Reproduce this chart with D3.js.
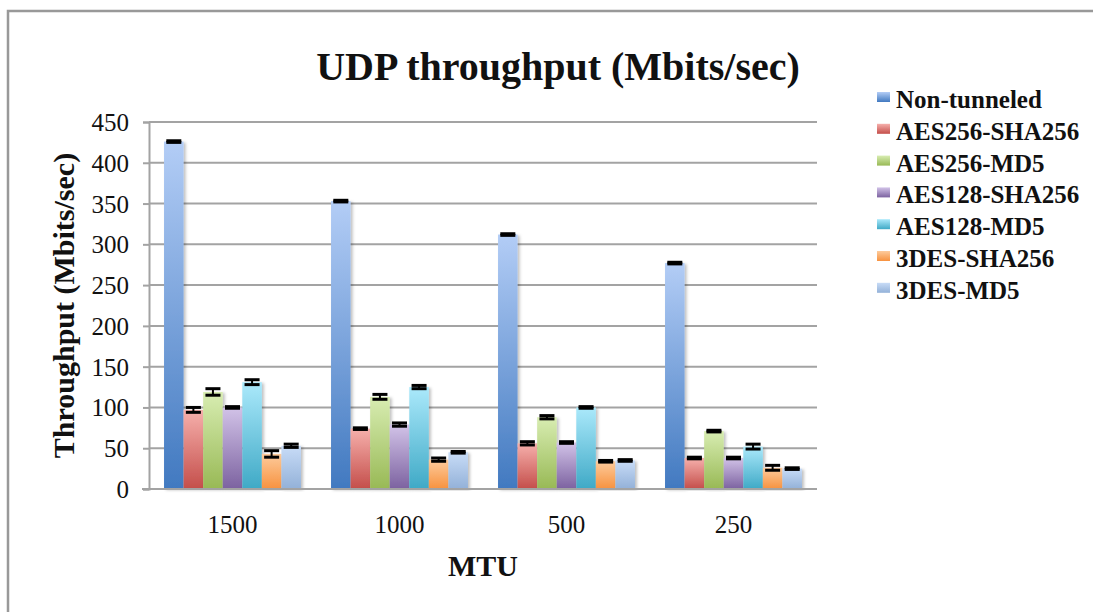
<!DOCTYPE html>
<html>
<head>
<meta charset="utf-8">
<script src="https://cdn.jsdelivr.net/npm/d3@7"></script>
<style>
body{margin:0;background:#fff;}
text{font-family:"Liberation Serif","Times New Roman",serif;fill:#111;}
.title{font-weight:bold;font-size:40px;}
.tick{font-size:25px;}
.label{font-weight:bold;font-size:30px;}
.legend{font-weight:bold;font-size:25px;}
</style>
</head>
<body>
<svg id="chart"></svg>
<script>
// data
var categories=["1500","1000","500","250"]
var seriesNames=["Non-tunneled","AES256-SHA256","AES256-MD5","AES128-SHA256","AES128-MD5","3DES-SHA256","3DES-MD5"]
var nonTunneled=[426,353,312,277]
var aes256sha=[97,74,56,38]
var aes256md5=[119,113,88,71]
var aes128sha=[100,79,57,38]
var aes128md5=[131,125,100,52]
var des3sha=[43,36,34,26]
var des3md5=[53,45,35,25]
var errNon=[1,1,1,1]
var errAes256sha=[3,1,2,1]
var errAes256md5=[4,3,2,1]
var errAes128sha=[1,2,1,1]
var errAes128md5=[3,2,1,3]
var errDes3sha=[4,2,1,3]
var errDes3md5=[2,1,1,1]
var yTicks=[0,50,100,150,200,250,300,350,400,450]

var values=[nonTunneled,aes256sha,aes256md5,aes128sha,aes128md5,des3sha,des3md5]
var errors=[errNon,errAes256sha,errAes256md5,errAes128sha,errAes128md5,errDes3sha,errDes3md5]
// top (light) and bottom (dark) colours of each bar gradient
var topColors=["#b3cdf6","#f6b0ac","#d8edb2","#d2c3e8","#abe9fb","#fdcb9c","#c8dcf7"]
var bottomColors=["#4179c0","#c44e4a","#98b955","#7c62a0","#3fa9c6","#f7923f","#93b1d8"]

var screen={width:1093,height:612}
var margins={left:149,right:276,top:122,bottom:123}
var graph={
    width:screen.width-margins.left-margins.right,
    height:screen.height-margins.top-margins.bottom}

var svg=d3.select("#chart")
    .attr("width",screen.width)
    .attr("height",screen.height)

var defs=svg.append("defs")
topColors.forEach(function(c,i){
    var g=defs.append("linearGradient")
        .attr("id","grad"+i)
        .attr("x1",0).attr("y1",0).attr("x2",0).attr("y2",1)
    g.append("stop").attr("offset","0%").attr("stop-color",c)
    g.append("stop").attr("offset","100%").attr("stop-color",bottomColors[i])
})
defs.append("filter").attr("id","shadow")
    .attr("x","-20%").attr("y","-5%").attr("width","150%").attr("height","110%")
    .append("feDropShadow")
    .attr("dx",2).attr("dy",1).attr("stdDeviation",1.5)
    .attr("flood-color","#000").attr("flood-opacity",0.25)

// outer frame (left and top edges visible)
svg.append("path")
    .attr("d","M8,612 L8,11 L1093,11")
    .attr("fill","none")
    .attr("stroke","#999")
    .attr("stroke-width",2.5)

var xScale=d3.scaleBand()
    .domain(categories)
    .range([0,graph.width])
    .paddingInner(0.18)
    .paddingOuter(0.09)
var innerScale=d3.scaleBand()
    .domain(d3.range(seriesNames.length))
    .range([0,xScale.bandwidth()])
var yScale=d3.scaleLinear()
    .domain([0,450])
    .range([graph.height,0])

var plot=svg.append("g")
    .attr("transform","translate("+margins.left+","+margins.top+")")

// gridlines
plot.append("g")
    .selectAll("line")
    .data(yTicks)
    .enter()
    .append("line")
    .attr("x1",0)
    .attr("x2",graph.width)
    .attr("y1",function(d){return yScale(d)})
    .attr("y2",function(d){return yScale(d)})
    .attr("stroke","#a3a3a3")
    .attr("stroke-width",2)

// y axis
var yAxis=d3.axisLeft(yScale).tickValues(yTicks).tickSize(6).tickPadding(14)
var ya=plot.append("g").call(yAxis)
ya.attr("font-family",null).attr("font-size",null)
ya.select(".domain").attr("stroke","#a3a3a3").attr("stroke-width",2)
ya.selectAll(".tick line").attr("stroke","#a3a3a3").attr("stroke-width",2)
ya.selectAll(".tick text")
    .attr("class","tick")
    .attr("dy","0.34em")
    .style("fill","#111")

// bars
var groups=plot.selectAll(".grp")
    .data(categories)
    .enter()
    .append("g")
    .classed("grp",true)
    .attr("transform",function(c){return "translate("+xScale(c)+",0)"})

groups.selectAll("rect")
    .data(function(c,ci){
        return values.map(function(s,si){return {si:si,v:s[ci],e:errors[si][ci]}})
    })
    .enter()
    .append("rect")
    .attr("x",function(d){return innerScale(d.si)})
    .attr("width",innerScale.bandwidth())
    .attr("y",function(d){return yScale(d.v)})
    .attr("height",function(d){return graph.height-yScale(d.v)})
    .attr("fill",function(d){return "url(#grad"+d.si+")"})
    .attr("filter","url(#shadow)")

// error bars
var capW=15
var eb=groups.selectAll(".err")
    .data(function(c,ci){
        return values.map(function(s,si){return {si:si,v:s[ci],e:errors[si][ci]}})
    })
    .enter()
    .append("g")
    .classed("err",true)
    .attr("transform",function(d){return "translate("+(innerScale(d.si)+innerScale.bandwidth()/2)+",0)"})
eb.append("line")
    .attr("x1",0).attr("x2",0)
    .attr("y1",function(d){return yScale(d.v+d.e)})
    .attr("y2",function(d){return yScale(d.v-d.e)})
    .attr("stroke","#000").attr("stroke-width",2)
eb.append("line")
    .attr("x1",-capW/2).attr("x2",capW/2)
    .attr("y1",function(d){return yScale(d.v+d.e)})
    .attr("y2",function(d){return yScale(d.v+d.e)})
    .attr("stroke","#000").attr("stroke-width",3)
eb.append("line")
    .attr("x1",-capW/2).attr("x2",capW/2)
    .attr("y1",function(d){return yScale(d.v-d.e)})
    .attr("y2",function(d){return yScale(d.v-d.e)})
    .attr("stroke","#000").attr("stroke-width",3)

// x axis baseline
plot.append("line")
    .attr("x1",-7).attr("x2",graph.width)
    .attr("y1",graph.height).attr("y2",graph.height)
    .attr("stroke","#a3a3a3").attr("stroke-width",2)

// category labels
plot.append("g")
    .selectAll("text")
    .data(categories)
    .enter()
    .append("text")
    .classed("tick",true)
    .attr("text-anchor","middle")
    .attr("x",function(c){return xScale(c)+xScale.bandwidth()/2})
    .attr("y",graph.height+44)
    .text(function(c){return c})

// labels
var labels=svg.append("g")
labels.append("text")
    .text("UDP throughput (Mbits/sec)")
    .classed("title",true)
    .attr("text-anchor","middle")
    .attr("x",558)
    .attr("y",80)
labels.append("text")
    .text("MTU")
    .classed("label",true)
    .attr("text-anchor","middle")
    .attr("x",483)
    .attr("y",576)
labels.append("g")
    .attr("transform","translate(74,"+(margins.top+graph.height/2)+")")
    .append("text")
    .text("Throughput (Mbits/sec)")
    .classed("label",true)
    .attr("text-anchor","middle")
    .attr("transform","rotate(270)")

// legend
var legend=svg.append("g")
    .attr("transform","translate(877,92)")
var items=legend.selectAll("g")
    .data(seriesNames)
    .enter()
    .append("g")
    .attr("transform",function(d,i){return "translate(0,"+(i*31.8)+")"})
items.append("rect")
    .attr("width",13).attr("height",10)
    .attr("fill",function(d,i){return "url(#grad"+i+")"})
items.append("text")
    .classed("legend",true)
    .attr("x",19)
    .attr("y",16)
    .text(function(d){return d})
</script>
</body>
</html>
